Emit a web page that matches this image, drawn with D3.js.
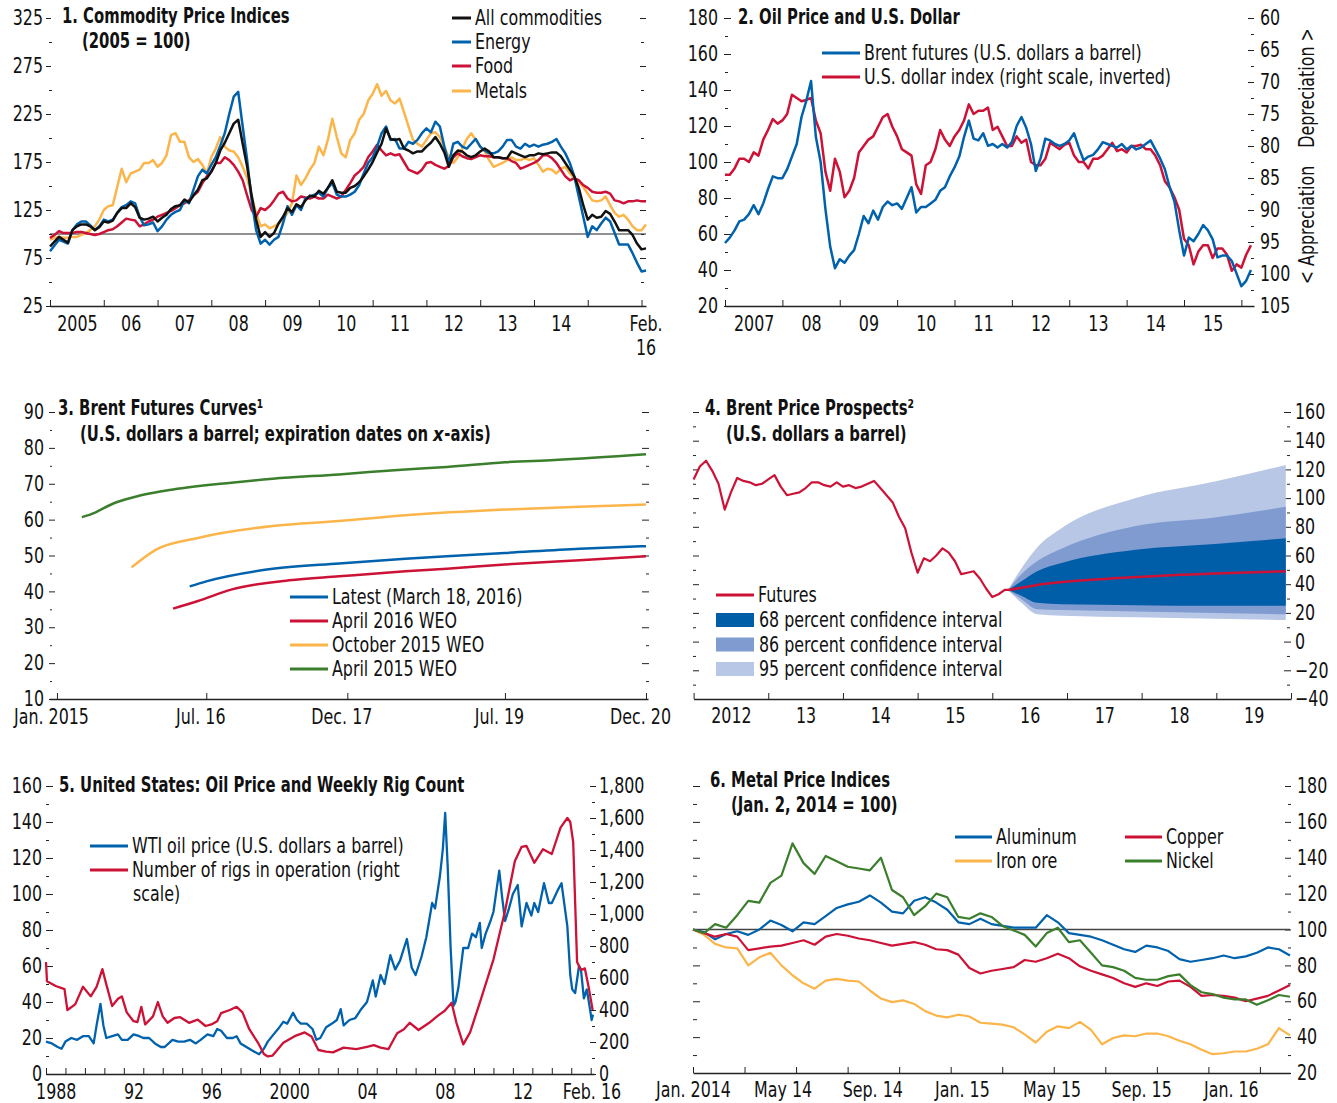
<!DOCTYPE html>
<html>
<head>
<meta charset="utf-8">
<script src="https://cdn.jsdelivr.net/npm/d3@7"></script>
<style>
  body { margin: 0; background: #fff; }
  svg text { font-family: "Liberation Sans Narrow", "Arial Narrow", "DejaVu Sans Condensed", sans-serif; font-size: 21px; fill: #111; }
  .title { font-weight: bold; }
  .tick line, .domain { stroke: #222; }
  .domain { stroke-width: 1.5; }
</style>
</head>
<body>
<script>
// ---- 1. commodity price indices, monthly Jan 2005 - Feb 2016 ----
var commStart = 2005;
var allComm = [
  87, 92, 97, 94, 91, 104, 108, 110, 110, 108, 104, 107,
  113, 112, 114, 122, 127, 127, 132, 128, 117, 115, 116, 118,
  113, 117, 120, 126, 129, 130, 136, 133, 140, 146, 156, 158,
  165, 174, 187, 195, 205, 215, 219, 194, 170, 140, 115, 97,
  102, 97, 101, 111, 118, 127, 123, 131, 128, 135, 140, 139,
  145, 142, 148, 156, 144, 143, 143, 148, 150, 154, 160, 167,
  175, 185, 194, 210, 199, 198, 199, 189, 187, 184, 186, 186,
  191, 195, 201, 194, 185, 170, 182, 187, 186, 182, 180, 182,
  186, 189, 186, 180, 180, 179, 179, 186, 184, 182, 180, 182,
  182, 184, 183, 184, 185, 185, 181, 174, 167, 160, 148, 130,
  115, 120, 117, 118, 124, 121, 113, 104, 104, 104, 99, 90,
  84, 85];
var energy = [
  82, 88, 94, 92, 90, 104, 110, 113, 113, 109, 104, 108,
  115, 113, 115, 122, 128, 130, 134, 132, 118, 109, 110, 112,
  103, 108, 115, 120, 123, 125, 135, 132, 146, 160, 167, 163,
  172, 180, 192, 205, 225, 243, 248, 212, 177, 135, 104, 90,
  94, 89, 94, 97, 111, 129, 120, 130, 125, 137, 139, 141,
  143, 139, 148, 153, 141, 139, 139, 141, 144, 151, 163, 174,
  180, 191, 205, 212, 198, 199, 189, 189, 196, 194, 198, 205,
  210, 206, 217, 212, 191, 174, 194, 196, 191, 189, 194, 199,
  191, 187, 184, 184, 186, 191, 198, 198, 191, 189, 194, 191,
  193, 191, 193, 194, 196, 199, 191, 184, 174, 160, 139, 118,
  97, 108, 104, 111, 117, 113, 101, 89, 89, 89, 80, 70,
  61, 62];
var food = [
  96, 99, 103, 101, 101, 101, 102, 102, 101, 100, 99, 100,
  102, 104, 105, 108, 112, 116, 115, 114, 108, 110, 113, 115,
  118, 120, 122, 124, 127, 130, 132, 135, 140, 144, 153, 160,
  165, 174, 174, 180, 177, 172, 165, 156, 140, 125, 118, 127,
  125, 129, 135, 142, 144, 137, 134, 135, 139, 138, 137, 139,
  137, 137, 141, 139, 137, 139, 146, 153, 161, 165, 170, 180,
  186, 193, 187, 182, 184, 182, 183, 175, 167, 165, 163, 167,
  174, 175, 172, 170, 168, 171, 180, 184, 181, 179, 178, 180,
  182, 181, 181, 180, 180, 179, 179, 176, 174, 168, 170, 172,
  174, 177, 182, 182, 179, 174, 167, 160, 156, 158, 156, 151,
  148, 144, 143, 143, 144, 142, 135, 134, 132, 134, 134, 135,
  134, 134];
var metals = [
  94, 96, 97, 96, 96, 97, 97, 99, 101, 104, 108, 115,
  125, 129, 130, 149, 168, 154, 163, 165, 167, 174, 174, 177,
  170, 174, 182, 203, 205, 196, 196, 180, 175, 178, 172, 163,
  180, 189, 201, 191, 187, 186, 180, 170, 158, 139, 122, 108,
  110, 106, 108, 111, 115, 122, 132, 161, 151, 158, 167, 174,
  191, 182, 198, 220, 201, 184, 180, 198, 205, 219, 225, 239,
  246, 256, 244, 249, 239, 236, 241, 227, 212, 198, 194, 191,
  198, 205, 206, 201, 191, 180, 174, 180, 189, 199, 205, 198,
  191, 186, 177, 170, 172, 174, 177, 180, 177, 177, 179, 177,
  179, 172, 165, 168, 167, 163, 168, 170, 163, 158, 154, 149,
  142, 135, 134, 135, 139, 130, 122, 118, 120, 115, 108, 104,
  104, 110];
var commYearLabels = ["2005", "06", "07", "08", "09", "10", "11", "12", "13", "14"];

// ---- 2. oil price and U.S. dollar, monthly Jan 2007 - Mar 2016 ----
var oilStart = 2007;
var brentFut = [
  55, 58, 62, 67, 68, 71, 76, 71, 77, 85, 92, 91,
  91, 96, 103, 110, 125, 134, 145, 114, 100, 74, 53, 41,
  46, 44, 48, 51, 60, 70, 66, 73, 68, 75, 78, 76,
  77, 74, 80, 86, 72, 75, 75, 77, 79, 84, 86, 92,
  97, 103, 114, 123, 113, 112, 116, 109, 110, 108, 110, 108,
  111, 120, 125, 119, 110, 95, 102, 113, 112, 110, 109, 110,
  112, 116, 108, 101, 103, 104, 107, 111, 110, 109, 108, 110,
  107, 109, 107, 108, 110, 112, 107, 102, 96, 86, 78, 62,
  48, 58, 56, 60, 65, 62, 57, 47, 48, 48, 45, 38,
  31, 34, 40];
var dollarIndex = [
  84.5, 84.5, 83.5, 82, 82, 82.5, 81, 81.5, 79, 77.5, 75.8, 76.5,
  76, 75, 72, 72.5, 73, 72.8, 72.5, 76, 78, 84, 87, 82,
  84, 88, 87, 85, 81, 80, 79, 78.5, 77, 75.5, 75, 77,
  78.5, 80.5, 81, 81.5, 86, 87.5, 83, 82.5, 80.5, 77.5, 79, 80,
  78.5, 77.5, 76, 73.5, 75, 74.5, 74.5, 74, 77.5, 77, 78.5, 80,
  80, 78.5, 79.5, 79, 82.5, 83, 83, 82, 79.5, 80, 80.5, 79.8,
  79.5, 81.5, 82.5, 82.5, 83.5, 82, 82, 81.5, 80.5, 79.5, 80.8, 80.5,
  81, 80, 80, 79.8, 80.5, 80.5, 81.5, 83, 85.5, 86.5, 88, 90,
  94.5, 95.5, 98.5, 96.5, 95.5, 95.5, 97.5, 96, 96, 97, 99.5, 98.5,
  99, 97, 95.5];
var oilYearLabels = ["2007", "08", "09", "10", "11", "12", "13", "14", "15"];

// ---- 3. Brent futures curves (expiration month, US$ a barrel) ----
var latestMonths = ["2016-05", "2016-07", "2017-03", "2017-11", "2018-07", "2018-12", "2019-07", "2020-04", "2020-12"];
var latestCurve  = [41.4, 42.8, 46.3, 47.8, 49.1, 49.8, 50.7, 51.9, 52.6];
var apr16Months  = ["2016-03", "2016-06", "2016-10", "2017-05", "2017-11", "2018-07", "2018-12", "2019-07", "2020-04", "2020-12"];
var apr16Curve   = [35.2, 37.3, 40.5, 43.1, 44.2, 45.6, 46.3, 47.5, 48.7, 49.8];
var oct15Months  = ["2015-10", "2016-01", "2016-06", "2017-03", "2017-11", "2018-07", "2019-07", "2020-04", "2020-12"];
var oct15Curve   = [46.7, 51.7, 54.9, 58.2, 59.6, 61.2, 62.8, 63.6, 64.2];
var apr15Months  = ["2015-04", "2015-05", "2015-08", "2015-11", "2016-03", "2016-10", "2017-03", "2017-11", "2018-07", "2018-12", "2019-07", "2020-01", "2020-12"];
var apr15Curve   = [60.7, 61.4, 64.7, 66.7, 68.4, 70.3, 71.4, 72.6, 74, 74.7, 76, 76.6, 78.2];
var curveTickMonths = ["2015-01", "2016-07", "2017-12", "2019-07", "2020-12"];
var curveTickLabels = ["Jan. 2015", "Jul. 16", "Dec. 17", "Jul. 19", "Dec. 20"];

// ---- 4. Brent price prospects ----
var prospStart = 2012;
var brentSpot = [
  113, 122, 126, 119, 110, 92, 104, 114, 112, 111, 109, 110,
  113, 116, 108, 102, 103, 104, 107, 111, 111, 109, 108, 111,
  108, 109, 107, 108, 110, 112, 107, 102, 97, 87, 79, 62,
  48, 58, 56, 60, 65, 62, 56, 47, 48, 49, 44, 37,
  31, 33, 36];
var fanYears   = [2016.21, 2016.39, 2016.6, 2016.94, 2017.92, 2018.98, 2019.93];
var futuresMid = [36, 37.5, 39.5, 41.5, 45, 47.5, 49];
var ci68Low    = [36, 32, 27, 26, 25.4, 25, 25];
var ci68High   = [36, 42, 49, 55, 64, 68, 72];
var ci86Low    = [36, 29.5, 22.6, 22, 21, 20, 19];
var ci86High   = [36, 47, 56, 65, 80.5, 86.5, 94];
var ci95Low    = [36, 27, 19, 18, 17, 16, 15];
var ci95High   = [36, 51, 65.5, 79.5, 100, 111.5, 123];
var prospYearLabels = ["2012", "13", "14", "15", "16", "17", "18", "19"];

// ---- 5. United States: WTI and oil rig count ----
var wtiYears = [
  1988.0, 1988.3, 1988.6, 1988.8,
  1989.0, 1989.3, 1989.6, 1989.9,
  1990.2, 1990.45, 1990.6, 1990.8, 1990.95,
  1991.1, 1991.4, 1991.7, 1991.9,
  1992.2, 1992.5, 1992.8,
  1993.0, 1993.3, 1993.6, 1993.9,
  1994.1, 1994.5, 1994.8,
  1995.1, 1995.4, 1995.7, 1995.95,
  1996.3, 1996.6, 1996.8,
  1997.0, 1997.3, 1997.6, 1997.8,
  1998.0, 1998.3, 1998.6, 1998.95,
  1999.2, 1999.4, 1999.7,
  2000.0, 2000.2, 2000.4, 2000.7, 2000.9,
  2001.1, 2001.4, 2001.7, 2001.9,
  2002.1, 2002.4, 2002.7, 2002.95,
  2003.15, 2003.3, 2003.6, 2003.9,
  2004.2, 2004.5, 2004.8, 2004.95,
  2005.2, 2005.4, 2005.7, 2005.95,
  2006.2, 2006.55, 2006.8,
  2007.0, 2007.3, 2007.55, 2007.85,
  2008.0, 2008.25, 2008.4, 2008.52, 2008.65, 2008.8, 2008.95,
  2009.05, 2009.2, 2009.45, 2009.7, 2009.9,
  2010.1, 2010.3, 2010.4, 2010.6, 2010.85,
  2011.0, 2011.3, 2011.45, 2011.6, 2011.8,
  2012.0, 2012.25, 2012.45, 2012.7, 2012.95,
  2013.1, 2013.3, 2013.6, 2013.85,
  2014.0, 2014.3, 2014.5, 2014.6, 2014.8, 2014.95,
  2015.05, 2015.2, 2015.4, 2015.5, 2015.65, 2015.8, 2015.95,
  2016.05, 2016.12];
var wtiPrice = [
  18, 17, 15, 14,
  18, 20, 19, 21,
  21, 17, 27, 39, 27,
  20, 21, 22, 19,
  19, 22, 21,
  20, 20, 17, 15,
  15, 19, 18,
  18, 19, 17, 19,
  22, 21, 25,
  24, 20, 20, 21,
  17, 15, 13, 11,
  14, 18, 22,
  26, 29, 28, 34, 30,
  28, 28, 25, 19,
  20, 26, 28, 30,
  36, 27, 30, 31,
  36, 40, 52, 43,
  55, 50, 66, 58,
  63, 75, 59,
  55, 65, 76, 95,
  92, 110, 125, 145, 115, 70, 38,
  40, 48, 70, 70, 78,
  76, 84, 70, 78, 85,
  90, 113, 98, 85, 92,
  100, 105, 82, 95, 88,
  95, 90, 106, 95,
  95, 102, 106, 98, 82, 55,
  47, 45, 60, 58, 42, 47, 37,
  30, 33];
var rigYears = [
  1988.0, 1988.05, 1988.5, 1988.95, 1989.1, 1989.5, 1989.9, 1990.3, 1990.6, 1990.9,
  1991.1, 1991.4, 1991.7, 1991.9, 1992.15, 1992.5, 1992.7, 1992.9, 1993.1, 1993.5,
  1993.75, 1994.0, 1994.25, 1994.6, 1994.9, 1995.35, 1995.8, 1996.2, 1996.5, 1996.8,
  1997.0, 1997.45, 1997.8, 1998.1, 1998.45, 1998.9, 1999.2, 1999.4, 1999.65, 2000.2,
  2000.85, 2001.3, 2001.65, 2002.0, 2002.4, 2002.75, 2003.3, 2003.95, 2004.5, 2004.85,
  2005.2, 2005.6, 2006.05, 2006.4, 2006.7, 2007.15, 2007.7, 2008.15, 2008.5, 2008.85,
  2009.1, 2009.45, 2009.8, 2010.35, 2011.0, 2011.6, 2012.1, 2012.45, 2012.7, 2013.1,
  2013.55, 2014.0, 2014.45, 2014.8, 2014.95, 2015.1, 2015.3, 2015.5, 2015.7, 2015.9,
  2016.1];
var rigCount = [
  700, 580, 550, 530, 400, 435, 545, 485, 545, 655,
  560, 425, 470, 485, 385, 330, 325, 420, 310, 360,
  450, 360, 320, 350, 355, 320, 340, 300, 310, 330,
  380, 400, 420, 385, 280, 195, 125, 110, 115, 195,
  240, 260, 235, 150, 140, 135, 165, 155, 170, 180,
  165, 155, 255, 280, 320, 275, 320, 365, 395, 445,
  320, 185, 260, 465, 715, 1020, 1330, 1420, 1425, 1320,
  1405, 1375, 1540, 1600, 1575, 1450, 700, 650, 660, 540,
  400];
var usYearLabels = ["1988", "92", "96", "2000", "04", "08", "12"];

// ---- 6. metal price indices, twice a month, Jan. 2, 2014 = 100 ----
var metalStart = 2014.0, metalEnd = 2016.22;
var aluminum = [
  100, 98.5, 94.5, 97.5, 99, 97, 100, 105, 102.5, 99,
  104, 103, 107.5, 112, 114, 115.5, 119, 115, 110, 109,
  116, 118, 115, 111, 104, 103, 106, 103, 102, 101,
  101, 101, 108, 104, 98, 97, 96, 94, 91.5, 89,
  87.5, 91, 90, 88, 83.5, 82, 83, 84, 85.5, 84,
  85, 87, 90, 89, 85.5];
var nickel = [
  100, 98, 103, 101, 108, 116, 115, 126, 130, 148,
  137, 131, 141, 138, 135, 134, 133, 140, 122, 118,
  108, 113, 120, 118, 107, 106, 109, 107, 102, 99.5,
  97, 90.5, 98, 101, 93, 94, 87, 80, 79, 77,
  73, 72, 72, 74, 75, 69, 65, 64, 62, 61,
  61, 58, 60.5, 63.5, 62.5];
var copper = [
  100, 98, 96, 97.5, 96, 88.5, 89.5, 90.5, 91, 92.5,
  94, 91.5, 96, 97.5, 96.5, 95, 94, 92.5, 91, 92,
  93, 91.5, 89, 88.5, 86, 78.5, 75.5, 77, 78, 79,
  83, 82, 84, 86.5, 84, 79.5, 77, 75, 73, 70,
  68, 70, 68.5, 71, 71.5, 68, 63, 63.5, 63, 62,
  60, 61.5, 63, 66, 69];
var ironOre = [
  100, 97, 92, 90, 89.5, 80, 84.5, 87, 80, 74.5,
  70, 67, 71.5, 72.5, 71.5, 71, 66, 61.5, 59.5, 60.5,
  58.5, 54.5, 52, 51, 52.5, 51.5, 48, 47.5, 47, 45.5,
  41.5, 37, 43, 46, 45, 48.5, 44, 36, 39.5, 41,
  40.5, 42, 42, 40.5, 38, 36, 33, 30.5, 31, 32,
  32, 33.5, 36, 45, 41];
var metalLabelDates = ["2014-01", "2014-05", "2014-09", "2015-01", "2015-05", "2015-09", "2016-01"];
var metalLabels = ["Jan. 2014", "May 14", "Sep. 14", "Jan. 15", "May 15", "Sep. 15", "Jan. 16"];

var BLACK = "#111", BLUE = "#0062ad", RED = "#cc1236", ORANGE = "#fbb54a", GREEN = "#3b7f2d";
var FAN68 = "#005ea9", FAN86 = "#7f9bd0", FAN95 = "#b8c7e6";
// the installed condensed face is wider than the original's, so labels get squeezed
var SQUEEZE = 0.84, SQUEEZE_BOLD = 0.785;

function ym(s) { var p = s.split("-"); return +p[0] + (+p[1] - 1) / 12; }
function monthly(start, n) { return d3.range(n).map(function(i) { return start + i / 12; }); }

var svg = d3.select("body").append("svg").attr("width", 1337).attr("height", 1103);

function yAxis(orient, x, scale, values, size, pad, fmt) {
  var ax = (orient == "left" ? d3.axisLeft(scale) : d3.axisRight(scale))
    .tickValues(values).tickSize(size).tickPadding(pad).tickFormat(fmt || "");
  var a = svg.append("g").attr("transform", "translate(" + x + ",0)").call(ax);
  a.select(".domain").remove();
  return a;
}

function xAxis(y, scale, ticks, labelAt, labelFmt, pad) {
  svg.append("g").attr("transform", "translate(0," + y + ")")
    .call(d3.axisBottom(scale).tickValues(ticks).tickSize(-6).tickSizeOuter(0).tickFormat(""));
  svg.append("g").attr("transform", "translate(0," + y + ")")
    .call(d3.axisBottom(scale).tickValues(labelAt).tickSize(0).tickPadding(pad).tickFormat(labelFmt))
    .select(".domain").remove();
}

function series(xs, ys, xv, yv, color, width, curve) {
  svg.append("path")
    .datum(d3.zip(xv, yv))
    .attr("fill", "none").attr("stroke", color).attr("stroke-width", width || 2.5)
    .attr("stroke-linejoin", "round")
    .attr("d", d3.line().x(function(d) { return xs(d[0]); }).y(function(d) { return ys(d[1]); })
      .curve(curve || d3.curveLinear));
}

function legendLine(x, y, len, color, label) {
  svg.append("line").attr("x1", x).attr("x2", x + len).attr("y1", y).attr("y2", y)
    .attr("stroke", color).attr("stroke-width", 3);
  svg.append("text").attr("x", x + len + 4).attr("y", y + 7).text(label);
}

function text(x, y, s, cls) {
  return svg.append("text").attr("x", x).attr("y", y).attr("class", cls || null).text(s);
}

// ================= panel 1 =================
var x1 = d3.scaleLinear().domain([2005, 2005 + 133 / 12]).range([50, 646]);
var y1 = d3.scaleLinear().domain([25, 325]).range([306, 18]);
var mYears = monthly(commStart, allComm.length);

yAxis("left", 51, y1, d3.range(25, 326, 50), 5, 3, d3.format("d"));
yAxis("left", 52, y1, d3.range(50, 301, 50), 3, 0);
yAxis("right", 640, y1, d3.range(25, 326, 50), 6, 0);
yAxis("right", 641, y1, d3.range(50, 301, 50), 3, 0);

svg.append("line").attr("x1", x1.range()[0]).attr("x2", x1.range()[1])
  .attr("y1", y1(100)).attr("y2", y1(100)).attr("stroke", "#222").attr("stroke-width", 1);

series(x1, y1, mYears, metals, ORANGE);
series(x1, y1, mYears, food, RED);
series(x1, y1, mYears, energy, BLUE);
series(x1, y1, mYears, allComm, BLACK);

xAxis(306, x1, d3.range(2005, 2017), d3.range(2005.5, 2015, 1),
  function(d, i) { return commYearLabels[i]; }, 10);
text(646, 331, "Feb.").attr("text-anchor", "middle");
text(646, 355, "16").attr("text-anchor", "middle");

text(62, 23, "1. Commodity Price Indices", "title");
text(82, 48, "(2005 = 100)", "title");
legendLine(452, 18, 19, BLACK, "All commodities");
legendLine(452, 42, 19, BLUE, "Energy");
legendLine(452, 66, 19, RED, "Food");
legendLine(452, 91, 19, ORANGE, "Metals");

// ================= panel 2 =================
var x2 = d3.scaleLinear().domain([2007, 2016.22]).range([725, 1254]);
var y2 = d3.scaleLinear().domain([20, 180]).range([306, 18]);
var y2r = d3.scaleLinear().domain([60, 105]).range([18, 306]);
var oYears = monthly(oilStart, brentFut.length);

yAxis("left", 731, y2, d3.range(20, 181, 20), 7, 6, d3.format("d"));
yAxis("left", 728, y2, d3.range(30, 171, 20), 3, 0);
yAxis("right", 1248, y2r, d3.range(60, 106, 5), 6, 6, d3.format("d"));
yAxis("right", 1251, y2r, d3.range(62.5, 104, 5), 3, 0);

series(x2, y2r, oYears, dollarIndex, RED);
series(x2, y2, oYears, brentFut, BLUE);

xAxis(306, x2, d3.range(2007, 2017), d3.range(2007.5, 2016, 1),
  function(d, i) { return oilYearLabels[i]; }, 10);

text(738, 24, "2. Oil Price and U.S. Dollar", "title");
legendLine(822, 53, 38, BLUE, "Brent futures (U.S. dollars a barrel)");
legendLine(822, 77, 38, RED, "U.S. dollar index (right scale, inverted)");
svg.append("text").attr("transform", "translate(1314,88) rotate(-90)")
  .attr("text-anchor", "middle").text("Depreciation >");
svg.append("text").attr("transform", "translate(1314,225) rotate(-90)")
  .attr("text-anchor", "middle").text("< Appreciation");

// ================= panel 3 =================
var x3 = d3.scaleLinear().domain([2014.92, 2020.937]).range([49, 648]);
var y3 = d3.scaleLinear().domain([10, 90]).range([699, 412]);

yAxis("left", 55, y3, d3.range(10, 91, 10), 6, 5, d3.format("d"));
yAxis("left", 52, y3, d3.range(15, 86, 10), 2, 0);
yAxis("right", 642, y3, d3.range(20, 91, 10), 7, 0);
yAxis("right", 646, y3, d3.range(15, 86, 10), 3, 0);

series(x3, y3, apr15Months.map(ym), apr15Curve, GREEN, 2.5, d3.curveMonotoneX);
series(x3, y3, oct15Months.map(ym), oct15Curve, ORANGE, 2.5, d3.curveMonotoneX);
series(x3, y3, apr16Months.map(ym), apr16Curve, RED, 2.5, d3.curveMonotoneX);
series(x3, y3, latestMonths.map(ym), latestCurve, BLUE, 2.5, d3.curveMonotoneX);

xAxis(699, x3, curveTickMonths.map(ym), curveTickMonths.map(function(m) { return ym(m) - 0.06; }),
  function(d, i) { return curveTickLabels[i]; }, 10);

text(58, 415, "3. Brent Futures Curves\u00b9", "title");
// italic bold x as one character, so the subtitle stays a single text
text(80, 441, "(U.S. dollars a barrel; expiration dates on \ud835\ude6d-axis)", "title");
legendLine(290, 597, 38, BLUE, "Latest (March 18, 2016)");
legendLine(290, 621, 38, RED, "April 2016 WEO");
legendLine(290, 645, 38, ORANGE, "October 2015 WEO");
legendLine(290, 669, 38, GREEN, "April 2015 WEO");

// ================= panel 4 =================
var x4 = d3.scaleLinear().domain([2012, 2020]).range([693.6, 1291]);
var y4 = d3.scaleLinear().domain([-40, 160]).range([699, 412]);

yAxis("right", 693, y4, d3.range(-20, 161, 20), 6, 0);
yAxis("right", 693, y4, d3.range(-30, 151, 20), 3, 0);
yAxis("right", 1284, y4, d3.range(-40, 161, 20), 7, 4, d3.format("d"));
yAxis("right", 1287, y4, d3.range(-30, 151, 20), 3, 0);

var fan = [[ci95Low, ci95High, FAN95], [ci86Low, ci86High, FAN86], [ci68Low, ci68High, FAN68]];
fan.forEach(function(b) {
  var pts = fanYears.map(function(yv, i) { return [yv, b[0][i], b[1][i]]; });
  svg.append("path").datum(pts).attr("fill", b[2])
    .attr("d", d3.area().x(function(d) { return x4(d[0]); })
      .y0(function(d) { return y4(d[1]); }).y1(function(d) { return y4(d[2]); })
      .curve(d3.curveMonotoneX));
});
series(x4, y4, monthly(prospStart, brentSpot.length).concat([fanYears[0]]), brentSpot.concat([futuresMid[0]]), RED, 2.2);
series(x4, y4, fanYears, futuresMid, RED, 2.6, d3.curveMonotoneX);

xAxis(699, x4, d3.range(2012, 2021), d3.range(2012.5, 2020, 1),
  function(d, i) { return prospYearLabels[i]; }, 9);

text(705, 415, "4. Brent Price Prospects\u00b2", "title");
text(726, 441, "(U.S. dollars a barrel)", "title");
legendLine(716, 595, 38, RED, "Futures");
[["68 percent confidence interval", FAN68], ["86 percent confidence interval", FAN86],
 ["95 percent confidence interval", FAN95]].forEach(function(l, i) {
  var yy = 620 + i * 24.5;
  svg.append("rect").attr("x", 716).attr("y", yy - 7).attr("width", 38).attr("height", 14).attr("fill", l[1]);
  text(759, yy + 7, l[0]);
});

// ================= panel 5 =================
var x5 = d3.scaleLinear().domain([1988, 2016.17]).range([46, 594]);
var y5 = d3.scaleLinear().domain([0, 160]).range([1074, 786]);
var y5r = d3.scaleLinear().domain([0, 1800]).range([1074, 786]);

yAxis("left", 53, y5, d3.range(0, 161, 20), 7, 4, d3.format("d"));
yAxis("left", 49, y5, d3.range(10, 151, 20), 3, 0);
yAxis("right", 590, y5r, d3.range(0, 1801, 200), 6, 3, d3.format(","));
yAxis("right", 592, y5r, d3.range(100, 1701, 200), 3, 0);

series(x5, y5, wtiYears, wtiPrice, BLUE, 2.3);
series(x5, y5r, rigYears, rigCount, RED, 2.3);

xAxis(1074, x5, d3.range(1988, 2017), d3.range(1988.5, 2013, 4),
  function(d, i) { return usYearLabels[i]; }, 10);
text(592, 1099, "Feb. 16").attr("text-anchor", "middle");

text(59, 792, "5. United States: Oil Price and Weekly Rig Count", "title");
legendLine(90, 846, 38, BLUE, "WTI oil price (U.S. dollars a barrel)");
legendLine(90, 870, 38, RED, "Number of rigs in operation (right");
text(133, 901, "scale)");

// ================= panel 6 =================
var x6 = d3.scaleLinear().domain([metalStart, metalEnd]).range([693, 1290]);
var y6 = d3.scaleLinear().domain([20, 180]).range([1073, 786]);
var hYears = d3.range(aluminum.length).map(function(i) {
  return metalStart + i * (metalEnd - metalStart) / (aluminum.length - 1);
});

yAxis("right", 693, y6, d3.range(40, 181, 20), 7, 0);
yAxis("right", 693, y6, d3.range(30, 171, 20), 4, 0);
yAxis("right", 1285, y6, d3.range(20, 181, 20), 6, 6, d3.format("d"));
yAxis("right", 1288, y6, d3.range(30, 171, 20), 3, 0);

svg.append("line").attr("x1", x6.range()[0]).attr("x2", x6.range()[1])
  .attr("y1", y6(100)).attr("y2", y6(100)).attr("stroke", "#444").attr("stroke-width", 1.3);

series(x6, y6, hYears, ironOre, ORANGE, 2.2);
series(x6, y6, hYears, aluminum, BLUE, 2.2);
series(x6, y6, hYears, copper, RED, 2.2);
series(x6, y6, hYears, nickel, GREEN, 2.2);

xAxis(1073, x6, d3.range(0, 12).map(function(k) { return metalStart + k * 70 / 365.25; }),
  metalLabelDates.map(ym), function(d, i) { return metalLabels[i]; }, 9);

text(710, 787, "6. Metal Price Indices", "title");
text(731, 812, "(Jan. 2, 2014 = 100)", "title");
legendLine(955, 837, 37, BLUE, "Aluminum");
legendLine(955, 861, 37, ORANGE, "Iron ore");
legendLine(1125, 837, 37, RED, "Copper");
legendLine(1125, 861, 37, GREEN, "Nickel");

svg.selectAll("text").each(function() {
  var len = this.getComputedTextLength() * (this.classList.contains("title") ? SQUEEZE_BOLD : SQUEEZE);
  d3.select(this).attr("textLength", len).attr("lengthAdjust", "spacingAndGlyphs");
});
</script>
</body>
</html>
